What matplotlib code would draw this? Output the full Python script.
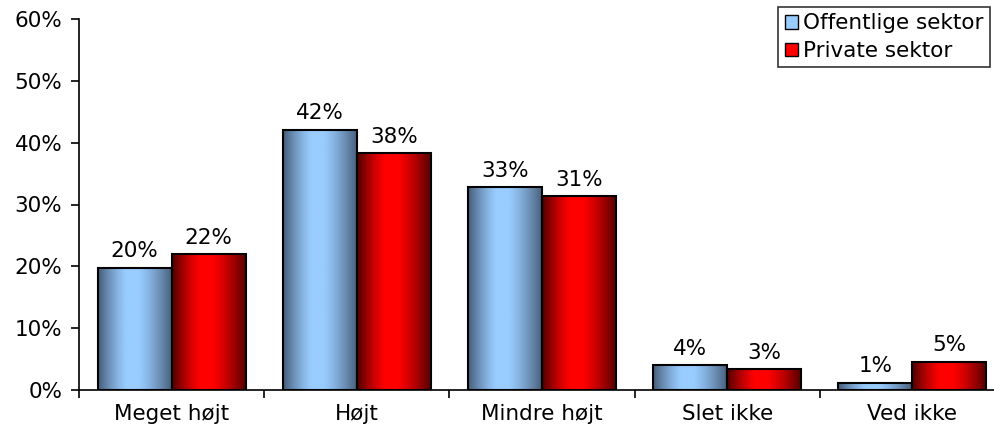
import numpy as np
import matplotlib.pyplot as plt
from matplotlib.patches import Rectangle, Patch
from matplotlib.colors import LinearSegmentedColormap

categories = ["Meget højt", "Højt", "Mindre højt", "Slet ikke", "Ved ikke"]
offentlig = [19.8, 42.1, 32.8, 4.0, 1.2]
privat = [22.0, 38.3, 31.4, 3.4, 4.6]
series_names = ["Offentlige sektor", "Private sektor"]
y_ticks = [0, 10, 20, 30, 40, 50, 60]

plt.rcParams['font.family'] = ['Verdana', 'DejaVu Sans']
plt.rcParams['font.size'] = 15.5

blue_map = LinearSegmentedColormap.from_list("blue", ["#465c78", "#99ccff"])
red_map = LinearSegmentedColormap.from_list("red", ["#500000", "#ff0000"])

# horizontal shading: dark edges, bright band just left of centre
xs = np.linspace(0, 1, 200)
peak = 0.45
d = np.where(xs < peak, (peak - xs) / peak, (xs - peak) / (1 - peak))
shade = 1 - np.clip((d - 0.15) / 0.85, 0, 1) ** 1.3
shade = shade[np.newaxis, :]

fig = plt.figure(figsize=(9.94, 4.32), dpi=100)
ax = fig.add_axes([79 / 994, 42 / 432, 926 / 994, 371 / 432])

width = 0.4
x = np.arange(len(categories))


def gradient_bar(xc, h, cmap):
    x0 = xc - width / 2
    ax.imshow(shade, cmap=cmap, vmin=0, vmax=1, aspect='auto',
              extent=[x0, x0 + width, 0, h], interpolation='bilinear', zorder=2)
    ax.add_patch(Rectangle((x0, 0), width, h, facecolor='none',
                           edgecolor='black', linewidth=1.5, zorder=3))
    ax.text(xc, h + 1.0, f"{h:.0f}%", ha='center', va='bottom')


for i in x:
    gradient_bar(i - width / 2, offentlig[i], blue_map)
    gradient_bar(i + width / 2, privat[i], red_map)

ax.set_xlim(-0.5, len(categories) - 0.5)
ax.set_ylim(0, 60)
ax.set_yticks(y_ticks)
ax.set_yticklabels([f"{t}%" for t in y_ticks])
ax.set_xticks(x)
ax.set_xticklabels(categories)
ax.set_xticks(np.arange(len(categories) + 1) - 0.5, minor=True)
ax.tick_params(axis='x', which='major', length=0, pad=10)
ax.tick_params(axis='x', which='minor', length=6, width=1.2, direction='out')
ax.tick_params(axis='y', length=6, width=1.2, direction='out', pad=6)

for side in ['top', 'right']:
    ax.spines[side].set_visible(False)
for side in ['left', 'bottom']:
    ax.spines[side].set_linewidth(1.2)

handles = [Patch(facecolor="#99ccff", edgecolor='black', label=series_names[0]),
           Patch(facecolor="#ff0000", edgecolor='black', label=series_names[1])]
leg = fig.legend(handles=handles, loc='upper right', bbox_to_anchor=(990 / 994, 1 - 7 / 432),
                 frameon=True, fancybox=False, edgecolor='black', fontsize=15.5,
                 handlelength=0.6, handleheight=0.6, handletextpad=0.25,
                 borderpad=0.3, labelspacing=0.35, borderaxespad=0)
leg.get_frame().set_linewidth(1.2)

fig.savefig("out.png", dpi=100)
